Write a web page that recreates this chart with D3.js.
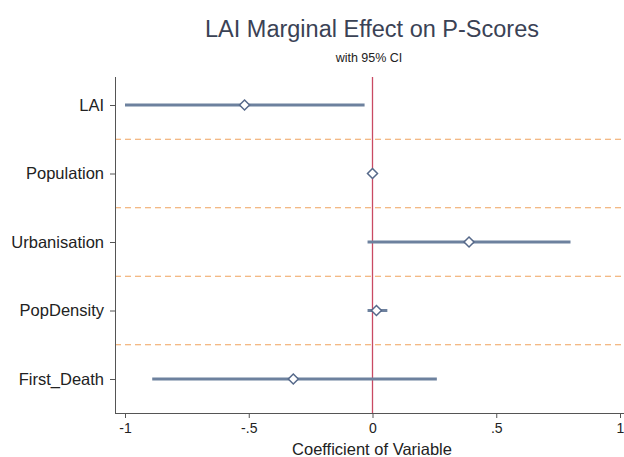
<!DOCTYPE html>
<html>
	<head>
		<meta charset="UTF-8">
		<title>LAI Marginal Effect on P-Scores</title>
		<script src="https://cdn.jsdelivr.net/npm/d3@7/dist/d3.min.js"></script>
		<style type="text/css">
			body { margin: 0; background: #fff; }
			svg { display: block; font-family: "Liberation Sans", Arial, sans-serif; }
		</style>
	</head>
	<body>
		<svg class="coefplot"></svg>
		<script type="text/javascript">
			// data
			var variables = ["LAI", "Population", "Urbanisation", "PopDensity", "First_Death"];
			var estimates = [-0.517, 0.0, 0.39, 0.016, -0.32];
			var ciLow = [-1.0, -0.004, -0.02, -0.02, -0.89];
			var ciHigh = [-0.032, 0.004, 0.80, 0.06, 0.26];
			var xTicks = [-1, -0.5, 0, 0.5, 1];
			var xTickLabels = ["-1", "-.5", "0", ".5", "1"];

			var width = 624, height = 457;
			var svg = d3.select(".coefplot").attr("width", width).attr("height", height);

			var plotLeft = 115, plotRight = 624, plotTop = 77, plotBottom = 413;

			var x = d3.scaleLinear().domain([-1, 1]).range([125, 620]);
			var y = d3.scalePoint().domain(variables).range([105, 379]);
			var step = y.step();

			var rows = variables.map(function(v, i) {
				return { name: v, est: estimates[i], lo: ciLow[i], hi: ciHigh[i] };
			});

			// dashed separators between rows
			svg.append("g").selectAll("line")
				.data(variables.slice(1))
				.join("line")
				.attr("x1", plotLeft)
				.attr("x2", plotRight)
				.attr("y1", function(d) { return y(d) - step / 2; })
				.attr("y2", function(d) { return y(d) - step / 2; })
				.attr("stroke", "#f0a35e")
				.attr("stroke-width", 1.2)
				.attr("stroke-dasharray", "6,4");

			// reference line at zero
			svg.append("line")
				.attr("x1", x(0)).attr("x2", x(0))
				.attr("y1", plotTop).attr("y2", plotBottom)
				.attr("stroke", "#c94a63")
				.attr("stroke-width", 1.3);

			// CI bars
			svg.append("g").selectAll("line")
				.data(rows)
				.join("line")
				.attr("x1", function(d) { return x(d.lo); })
				.attr("x2", function(d) { return x(d.hi); })
				.attr("y1", function(d) { return y(d.name); })
				.attr("y2", function(d) { return y(d.name); })
				.attr("stroke", "#6d819e")
				.attr("stroke-width", 3);

			// diamond markers
			svg.append("g").selectAll("path")
				.data(rows)
				.join("path")
				.attr("d", d3.symbol().type(d3.symbolDiamond2).size(64))
				.attr("transform", function(d) { return "translate(" + x(d.est) + "," + y(d.name) + ")"; })
				.attr("fill", "#fff")
				.attr("stroke", "#56698a")
				.attr("stroke-width", 1.5);

			// axes
			var xAxis = d3.axisBottom(x).tickValues(xTicks)
				.tickFormat(function(d, i) { return xTickLabels[i]; })
				.tickSize(5).tickPadding(5);
			var gx = svg.append("g").attr("transform", "translate(0," + plotBottom + ")").call(xAxis);
			gx.select(".domain").attr("d", "M" + plotLeft + ",0.5H" + plotRight).attr("stroke", "#555");
			gx.selectAll(".tick line").attr("stroke", "#555");
			gx.selectAll(".tick text").attr("font-size", 14).attr("fill", "#222")
				.style("font-family", "Liberation Sans, Arial, sans-serif");

			var yAxis = d3.axisLeft(y).tickSize(5).tickPadding(6);
			var gy = svg.append("g").attr("transform", "translate(" + plotLeft + ",0)").call(yAxis);
			gy.select(".domain").attr("d", "M0.5," + plotTop + "V" + plotBottom).attr("stroke", "#555");
			gy.selectAll(".tick line").attr("stroke", "#555");
			gy.selectAll(".tick text").attr("font-size", 16.5).attr("fill", "#222")
				.style("font-family", "Liberation Sans, Arial, sans-serif");

			// titles
			svg.append("text")
				.attr("x", 372).attr("y", 37)
				.attr("text-anchor", "middle")
				.attr("font-size", 23.5)
				.attr("fill", "#3a4255")
				.text("LAI Marginal Effect on P-Scores");

			svg.append("text")
				.attr("x", 369).attr("y", 62)
				.attr("text-anchor", "middle")
				.attr("font-size", 12.5)
				.attr("fill", "#222")
				.text("with 95% CI");

			svg.append("text")
				.attr("x", 372).attr("y", 455)
				.attr("text-anchor", "middle")
				.attr("font-size", 16.5)
				.attr("fill", "#222")
				.text("Coefficient of Variable");
		</script>
	</body>
</html>
